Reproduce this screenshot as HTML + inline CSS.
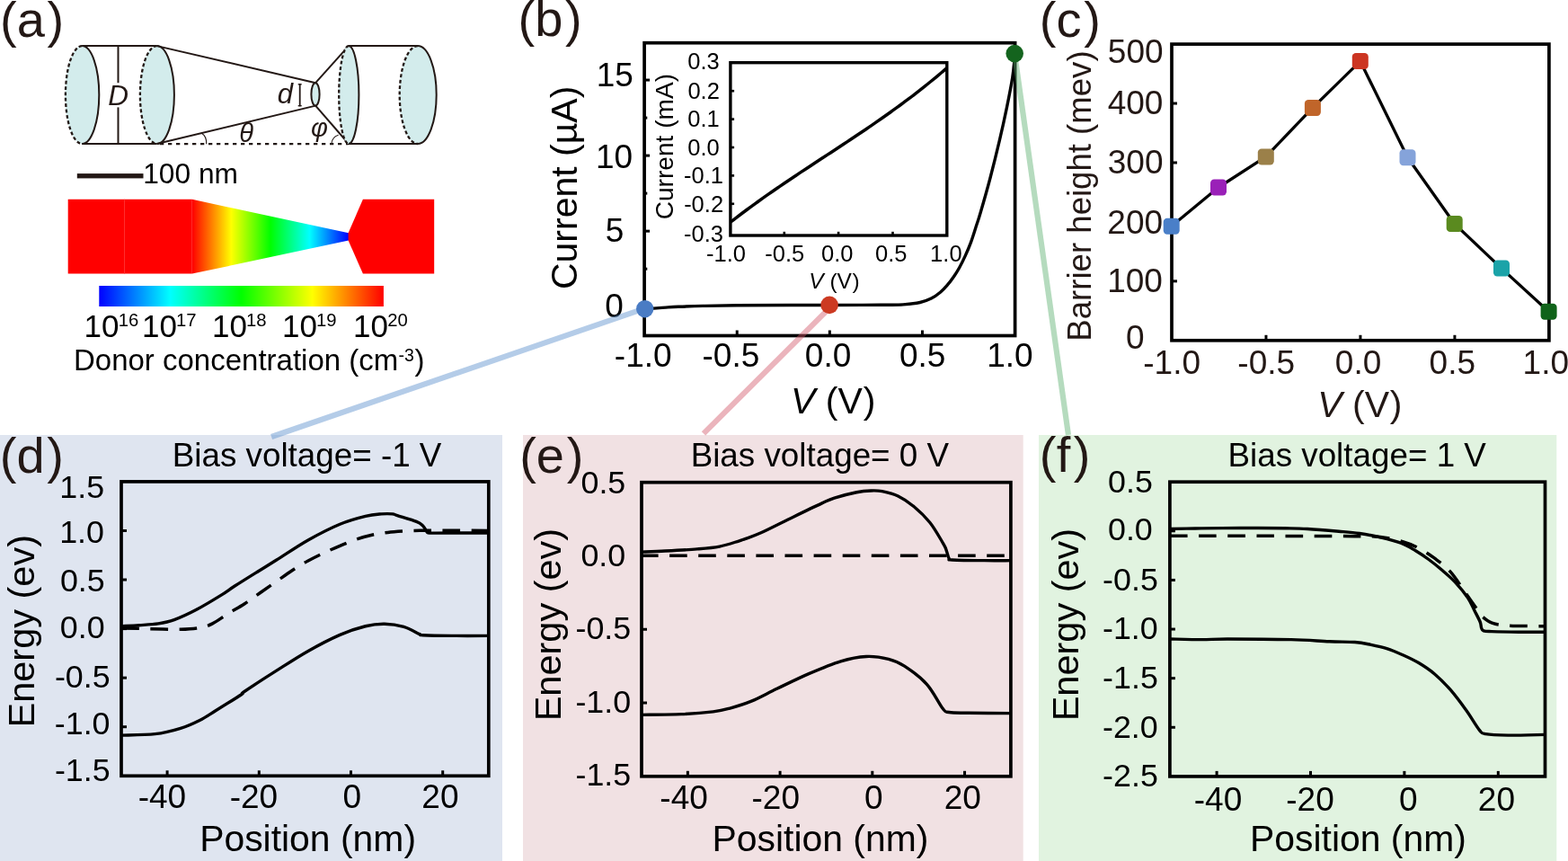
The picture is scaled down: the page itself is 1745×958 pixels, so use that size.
<!DOCTYPE html><html><head><meta charset="utf-8"><title>Figure</title><style>html,body{margin:0;padding:0;background:#fff;overflow:hidden}svg{display:block}</style></head><body><svg width="1745" height="958" viewBox="0 0 1745 958" font-family="'Liberation Sans', Arial, Helvetica, sans-serif">
<defs><linearGradient id="cone" gradientUnits="userSpaceOnUse" x1="213.8" y1="0" x2="388" y2="0"><stop offset="0" stop-color="#ff0000"/><stop offset="0.25" stop-color="#ffff00"/><stop offset="0.5" stop-color="#00ff00"/><stop offset="0.75" stop-color="#00ffff"/><stop offset="1" stop-color="#0000ff"/></linearGradient><linearGradient id="cbar" gradientUnits="userSpaceOnUse" x1="110.3" y1="0" x2="426.9" y2="0"><stop offset="0" stop-color="#0000ff"/><stop offset="0.25" stop-color="#00ffff"/><stop offset="0.5" stop-color="#00ff00"/><stop offset="0.75" stop-color="#ffff00"/><stop offset="1" stop-color="#ff0000"/></linearGradient></defs>
<rect width="1745" height="958" fill="#fff"/>
<rect x="0" y="484" width="559" height="474" fill="#dfe5f0"/>
<rect x="582" y="484" width="556.7" height="474" fill="#f1e1e3"/>
<rect x="1156" y="484" width="576.3" height="474" fill="#e1f3e0"/>
<text x="0.04" y="40.5" font-size="56" fill="#231815">(<tspan dx="0">a</tspan><tspan dx="2.7">)</tspan></text>
<text x="576.54" y="40" font-size="56" fill="#231815">(<tspan dx="0">b</tspan><tspan dx="2.7">)</tspan></text>
<text x="1156.84" y="40.5" font-size="56" fill="#231815">(<tspan dx="0">c</tspan><tspan dx="2.7">)</tspan></text>
<text x="-0.16" y="525.5" font-size="56" fill="#231815">(<tspan dx="0">d</tspan><tspan dx="2.7">)</tspan></text>
<text x="578.14" y="526" font-size="56" fill="#231815">(<tspan dx="0">e</tspan><tspan dx="2.7">)</tspan></text>
<text x="1156.84" y="524.9" font-size="56" fill="#231815">(<tspan dx="0.3">f</tspan><tspan dx="3.5">)</tspan></text>
<ellipse cx="91.3" cy="105.55" rx="19" ry="54.45" fill="#d3ecec"/>
<path d="M91.3 51.1 A19 54.45 0 0 1 91.3 160" fill="none" stroke="#231815" stroke-width="2.0"/>
<path d="M91.3 51.1 A18.4 54.45 0 0 0 91.3 160" fill="none" stroke="#231815" stroke-width="2.3" stroke-dasharray="3.8 2.6"/>
<ellipse cx="174.6" cy="105.55" rx="19.3" ry="54.45" fill="#d3ecec"/>
<path d="M174.6 51.1 A19.3 54.45 0 0 1 174.6 160" fill="none" stroke="#231815" stroke-width="2.0"/>
<path d="M174.6 51.1 A18.7 54.45 0 0 0 174.6 160" fill="none" stroke="#231815" stroke-width="2.3" stroke-dasharray="3.8 2.6"/>
<line x1="91.3" y1="51.1" x2="174.6" y2="51.1" stroke="#231815" stroke-width="2.0"/>
<line x1="91.3" y1="160" x2="174.6" y2="160" stroke="#231815" stroke-width="2.0"/>
<line x1="131.5" y1="51.1" x2="131.5" y2="92.2" stroke="#231815" stroke-width="2.0"/>
<line x1="131.5" y1="119.4" x2="131.5" y2="160" stroke="#231815" stroke-width="2.0"/>
<text x="120.36" y="117" font-size="31.5" font-style="italic" fill="#231815">D</text>
<line x1="174.6" y1="51.1" x2="351.2" y2="92.2" stroke="#231815" stroke-width="2.0"/>
<line x1="174.6" y1="160" x2="351.2" y2="117.6" stroke="#231815" stroke-width="2.0"/>
<line x1="178" y1="160.1" x2="388" y2="160.1" stroke="#231815" stroke-width="2.2" stroke-dasharray="4.3 4.7"/>
<ellipse cx="351" cy="104.9" rx="4.6" ry="12.7" fill="#d3ecec" stroke="#231815" stroke-width="2.0"/>
<line x1="351.2" y1="92.2" x2="388" y2="51.1" stroke="#231815" stroke-width="2.0"/>
<line x1="351.2" y1="117.6" x2="388" y2="160" stroke="#231815" stroke-width="2.0"/>
<ellipse cx="388" cy="105.55" rx="11.4" ry="54.45" fill="#d3ecec"/>
<path d="M388 51.1 A11.4 54.45 0 0 1 388 160" fill="none" stroke="#231815" stroke-width="2.0"/>
<path d="M388 51.1 A10.8 54.45 0 0 0 388 160" fill="none" stroke="#231815" stroke-width="2.3" stroke-dasharray="3.8 2.6"/>
<ellipse cx="464.9" cy="105.55" rx="20.8" ry="54.45" fill="#d3ecec"/>
<path d="M464.9 51.1 A20.8 54.45 0 0 1 464.9 160" fill="none" stroke="#231815" stroke-width="2.0"/>
<path d="M464.9 51.1 A20.2 54.45 0 0 0 464.9 160" fill="none" stroke="#231815" stroke-width="2.3" stroke-dasharray="3.8 2.6"/>
<line x1="388" y1="51.1" x2="464.9" y2="51.1" stroke="#231815" stroke-width="2.0"/>
<line x1="388" y1="160" x2="464.9" y2="160" stroke="#231815" stroke-width="2.0"/>
<line x1="333.7" y1="93.2" x2="333.7" y2="118.3" stroke="#231815" stroke-width="1.8"/>
<line x1="331.7" y1="93.8" x2="335.7" y2="93.8" stroke="#231815" stroke-width="1.4"/>
<line x1="331.7" y1="117.7" x2="335.7" y2="117.7" stroke="#231815" stroke-width="1.4"/>
<text x="308.72" y="115.4" font-size="31" font-style="italic" fill="#231815">d</text>
<path d="M224.3 148.3 Q229.9 151.5 229.8 160.2" fill="none" stroke="#231815" stroke-width="1.1"/>
<path d="M368.8 160.2 Q369.6 152.4 376.6 150.3" fill="none" stroke="#231815" stroke-width="1.1"/>
<text x="266.25" y="157.6" font-size="29" font-style="italic" fill="#231815">θ</text>
<text x="345.99" y="152.26" font-size="29" font-style="italic" fill="#231815">φ</text>
<rect x="85.8" y="193.1" width="73.7" height="5.3" fill="#231815"/>
<text x="159.24" y="204.3" font-size="31.7" font-style="normal" fill="#000">100 nm</text>
<polygon points="75.7,221.8 213.8,221.8 213.8,304.6 75.7,304.6" fill="#ff0000"/>
<line x1="138.5" y1="221.8" x2="138.5" y2="304.6" stroke="#ff3a3a" stroke-width="0.8"/>
<polygon points="213.8,221.8 388,259.3 388,267.6 213.8,304.6" fill="url(#cone)"/>
<polygon points="387.6,259.3 403.9,221.8 483.2,221.8 483.2,304.6 403.9,304.6 387.6,267.6" fill="#ff0000"/>
<rect x="110.3" y="318" width="316.6" height="23" fill="url(#cbar)"/>
<text x="93.62" y="374.6" font-size="35" font-style="normal" fill="#000">10</text>
<text x="131.68" y="362.9" font-size="20.3" font-style="normal" fill="#000">16</text>
<text x="157.93" y="374.6" font-size="35" font-style="normal" fill="#000">10</text>
<text x="196.08" y="362.9" font-size="20.3" font-style="normal" fill="#000">17</text>
<text x="235.93" y="374.6" font-size="35" font-style="normal" fill="#000">10</text>
<text x="273.98" y="362.9" font-size="20.3" font-style="normal" fill="#000">18</text>
<text x="313.93" y="374.6" font-size="35" font-style="normal" fill="#000">10</text>
<text x="352.03" y="362.9" font-size="20.3" font-style="normal" fill="#000">19</text>
<text x="392.93" y="374.6" font-size="35" font-style="normal" fill="#000">10</text>
<text x="431.18" y="362.9" font-size="20.3" font-style="normal" fill="#000">20</text>
<text x="81.96" y="412" font-size="33" font-style="normal" fill="#000">Donor concentration (cm</text>
<text x="443.59" y="401.5" font-size="19.5" fill="#000">-3</text>
<text x="461.43" y="412" font-size="33" fill="#000">)</text>
<rect x="717.1" y="47.7" width="412.5" height="325.8" fill="none" stroke="#000" stroke-width="3.7"/>
<line x1="717.1" y1="257.15" x2="723.1" y2="257.15" stroke="#000" stroke-width="3.0"/>
<line x1="717.1" y1="173.1" x2="723.1" y2="173.1" stroke="#000" stroke-width="3.0"/>
<line x1="717.1" y1="89.05" x2="723.1" y2="89.05" stroke="#000" stroke-width="3.0"/>
<line x1="717.1" y1="299.18" x2="720.3" y2="299.18" stroke="#000" stroke-width="3.0"/>
<line x1="717.1" y1="215.12" x2="720.3" y2="215.12" stroke="#000" stroke-width="3.0"/>
<line x1="717.1" y1="131.08" x2="720.3" y2="131.08" stroke="#000" stroke-width="3.0"/>
<line x1="820.23" y1="373.5" x2="820.23" y2="367.5" stroke="#000" stroke-width="3.0"/>
<line x1="923.35" y1="373.5" x2="923.35" y2="367.5" stroke="#000" stroke-width="3.0"/>
<line x1="1026.47" y1="373.5" x2="1026.47" y2="367.5" stroke="#000" stroke-width="3.0"/>
<text x="663.72" y="96.43" font-size="37" font-style="normal" fill="#000">15</text>
<text x="663.02" y="187.1" font-size="37" font-style="normal" fill="#000">10</text>
<text x="673.73" y="269.13" font-size="37" font-style="normal" fill="#000">5</text>
<text x="673.34" y="352.9" font-size="37" font-style="normal" fill="#000">0</text>
<text x="683.84" y="408.3" font-size="37" font-style="normal" fill="#000">-1.0</text>
<text x="781.54" y="408.3" font-size="37" font-style="normal" fill="#000">-0.5</text>
<text x="895.82" y="408.3" font-size="37" font-style="normal" fill="#000">0.0</text>
<text x="1000.92" y="408.3" font-size="37" font-style="normal" fill="#000">0.5</text>
<text x="1098.27" y="408.3" font-size="37" font-style="normal" fill="#000">1.0</text>
<text transform="translate(641.62 322.05) rotate(-90)" font-size="41" fill="#000">Current (µA)</text>
<text x="880.12" y="460.4" font-size="41" fill="#000"><tspan font-style="italic">V</tspan> (V<tspan dx="0.74">)</tspan></text>
<rect x="812.9" y="69.7" width="240.9" height="192.3" fill="none" stroke="#000" stroke-width="3.4"/>
<line x1="812.9" y1="101.2" x2="817.1" y2="101.2" stroke="#000" stroke-width="2.6"/>
<line x1="812.9" y1="132.6" x2="817.1" y2="132.6" stroke="#000" stroke-width="2.6"/>
<line x1="812.9" y1="164" x2="817.1" y2="164" stroke="#000" stroke-width="2.6"/>
<line x1="812.9" y1="195.4" x2="817.1" y2="195.4" stroke="#000" stroke-width="2.6"/>
<line x1="812.9" y1="226.8" x2="817.1" y2="226.8" stroke="#000" stroke-width="2.6"/>
<line x1="872.8" y1="262" x2="872.8" y2="257.8" stroke="#000" stroke-width="2.6"/>
<line x1="933.1" y1="262" x2="933.1" y2="257.8" stroke="#000" stroke-width="2.6"/>
<line x1="993.5" y1="262" x2="993.5" y2="257.8" stroke="#000" stroke-width="2.6"/>
<text x="765.28" y="77.4" font-size="25.5" font-style="normal" fill="#000">0.3</text>
<text x="765.4" y="110" font-size="25.5" font-style="normal" fill="#000">0.2</text>
<text x="765.34" y="141.4" font-size="25.5" font-style="normal" fill="#000">0.1</text>
<text x="765.21" y="172.8" font-size="25.5" font-style="normal" fill="#000">0.0</text>
<text x="761.07" y="204.2" font-size="25.5" font-style="normal" fill="#000">-0.1</text>
<text x="761.13" y="235.6" font-size="25.5" font-style="normal" fill="#000">-0.2</text>
<text x="761.01" y="268.6" font-size="25.5" font-style="normal" fill="#000">-0.3</text>
<text x="786.05" y="291.1" font-size="25.5" font-style="normal" fill="#000">-1.0</text>
<text x="851.35" y="291.1" font-size="25.5" font-style="normal" fill="#000">-0.5</text>
<text x="913.98" y="291.1" font-size="25.5" font-style="normal" fill="#000">0.0</text>
<text x="974.08" y="291.1" font-size="25.5" font-style="normal" fill="#000">0.5</text>
<text x="1035.12" y="291.1" font-size="25.5" font-style="normal" fill="#000">1.0</text>
<text transform="translate(749.17 244.31) rotate(-90)" font-size="28.1" fill="#000">Current (mA)</text>
<text x="900.32" y="320.7" font-size="24.5" fill="#000"><tspan font-style="italic">V</tspan> (V<tspan dx="0.44">)</tspan></text>
<path d="M812.9 247.24 C813.9 246.47 816.91 244.12 818.92 242.58 C820.93 241.05 822.94 239.52 824.94 238.01 C826.95 236.5 828.96 235 830.97 233.51 C832.98 232.02 834.98 230.55 836.99 229.08 C839 227.62 841 226.17 843.01 224.72 C845.02 223.28 847.03 221.85 849.03 220.43 C851.04 219 853.05 217.59 855.06 216.19 C857.07 214.78 859.07 213.39 861.08 212 C863.09 210.61 865.09 209.23 867.1 207.86 C869.11 206.48 871.12 205.12 873.12 203.76 C875.13 202.4 877.14 201.04 879.15 199.7 C881.15 198.35 883.16 197.01 885.17 195.67 C887.18 194.33 889.18 192.99 891.19 191.66 C893.2 190.33 895.21 189.01 897.21 187.68 C899.22 186.36 901.23 185.04 903.24 183.72 C905.25 182.4 907.25 181.08 909.26 179.77 C911.27 178.45 913.27 177.14 915.28 175.82 C917.29 174.51 919.3 173.2 921.3 171.88 C923.31 170.57 925.32 169.25 927.33 167.94 C929.34 166.62 931.34 165.3 933.35 163.98 C935.36 162.66 937.36 161.34 939.37 160.02 C941.38 158.69 943.39 157.37 945.39 156.03 C947.4 154.7 949.41 153.37 951.42 152.03 C953.42 150.69 955.43 149.34 957.44 147.99 C959.45 146.64 961.45 145.29 963.46 143.93 C965.47 142.57 967.48 141.2 969.48 139.82 C971.49 138.45 973.5 137.07 975.51 135.67 C977.51 134.28 979.52 132.89 981.53 131.48 C983.54 130.07 985.55 128.66 987.55 127.23 C989.56 125.81 991.57 124.37 993.57 122.93 C995.58 121.48 997.59 120.02 999.6 118.56 C1001.61 117.09 1003.61 115.61 1005.62 114.12 C1007.63 112.63 1009.63 111.13 1011.64 109.61 C1013.65 108.09 1015.66 106.57 1017.66 105.02 C1019.67 103.48 1021.68 101.92 1023.69 100.35 C1025.69 98.78 1027.7 97.2 1029.71 95.6 C1031.72 93.99 1033.72 92.38 1035.73 90.74 C1037.74 89.11 1039.75 87.46 1041.75 85.8 C1043.76 84.13 1045.77 82.45 1047.78 80.75 C1049.78 79.04 1052.8 76.45 1053.8 75.59" fill="none" stroke="#000" stroke-width="3.5" stroke-linejoin="round"/>
<path d="M717.7 343.9 C719.33 343.77 723.62 343.4 727.5 343.1 C731.38 342.8 736.42 342.4 741 342.1 C745.58 341.8 748.08 341.58 755 341.3 C761.92 341.02 771.67 340.65 782.5 340.4 C793.33 340.15 803.75 339.95 820 339.8 C836.25 339.65 856.67 339.57 880 339.5 C903.33 339.43 942.5 339.45 960 339.4 C977.5 339.35 977.48 339.28 985 339.2 C992.52 339.12 998.62 339.35 1005.1 338.9 C1011.58 338.45 1018.68 337.63 1023.9 336.5 C1029.12 335.37 1032.65 333.98 1036.4 332.1 C1040.15 330.22 1043.48 327.6 1046.4 325.2 C1049.32 322.8 1051.38 320.62 1053.9 317.7 C1056.42 314.78 1059.2 311.03 1061.5 307.7 C1063.8 304.37 1065.62 301.47 1067.7 297.7 C1069.78 293.93 1071.9 289.7 1074 285.1 C1076.1 280.5 1078.22 275.73 1080.3 270.1 C1082.38 264.47 1084.68 256.9 1086.5 251.3 C1088.32 245.7 1088.65 245.27 1091.2 236.5 C1093.75 227.73 1098.3 211.97 1101.8 198.7 C1105.3 185.43 1109.08 170.13 1112.2 156.9 C1115.32 143.67 1118.07 131.13 1120.5 119.3 C1122.93 107.47 1125.4 94.6 1126.8 85.9 C1128.2 77.2 1128.47 71.42 1128.9 67.1 C1129.33 62.78 1129.32 61.18 1129.4 60" fill="none" stroke="#000" stroke-width="3.4" stroke-linejoin="round"/>
<line x1="713.3" y1="344.6" x2="302.1" y2="486.0" stroke="rgb(88,142,204)" stroke-opacity="0.45" stroke-width="6.2"/>
<line x1="924.5" y1="341.4" x2="783.0" y2="482.4" stroke="rgb(210,88,106)" stroke-opacity="0.45" stroke-width="6.2"/>
<line x1="1130.0" y1="66.0" x2="1189.0" y2="484.0" stroke="rgb(90,176,110)" stroke-opacity="0.45" stroke-width="6.2"/>
<circle cx="717.7" cy="343.7" r="9.7" fill="#4a7cc4"/>
<circle cx="923.1" cy="339.4" r="9.8" fill="#cc3a22"/>
<circle cx="1129.2" cy="59.6" r="9.8" fill="#14641e"/>
<rect x="1304" y="49.1" width="419.9" height="329.7" fill="none" stroke="#000" stroke-width="3.7"/>
<line x1="1304" y1="312.86" x2="1310" y2="312.86" stroke="#000" stroke-width="3.0"/>
<line x1="1304" y1="246.92" x2="1310" y2="246.92" stroke="#000" stroke-width="3.0"/>
<line x1="1304" y1="180.98" x2="1310" y2="180.98" stroke="#000" stroke-width="3.0"/>
<line x1="1304" y1="115.04" x2="1310" y2="115.04" stroke="#000" stroke-width="3.0"/>
<line x1="1408.97" y1="378.8" x2="1408.97" y2="372.8" stroke="#000" stroke-width="3.0"/>
<line x1="1513.95" y1="378.8" x2="1513.95" y2="372.8" stroke="#000" stroke-width="3.0"/>
<line x1="1618.93" y1="378.8" x2="1618.93" y2="372.8" stroke="#000" stroke-width="3.0"/>
<text x="1232.86" y="69.6" font-size="37" font-style="normal" fill="#231815">500</text>
<text x="1232.72" y="126.6" font-size="37" font-style="normal" fill="#231815">400</text>
<text x="1232.8" y="192.5" font-size="37" font-style="normal" fill="#231815">300</text>
<text x="1232.37" y="259.7" font-size="37" font-style="normal" fill="#231815">200</text>
<text x="1232.16" y="324.5" font-size="37" font-style="normal" fill="#231815">100</text>
<text x="1252.94" y="388.1" font-size="37" font-style="normal" fill="#231815">0</text>
<text x="1272.24" y="415.6" font-size="37" font-style="normal" fill="#231815">-1.0</text>
<text x="1377.34" y="415.6" font-size="37" font-style="normal" fill="#231815">-0.5</text>
<text x="1485.82" y="415.6" font-size="37" font-style="normal" fill="#231815">0.0</text>
<text x="1590.62" y="415.6" font-size="37" font-style="normal" fill="#231815">0.5</text>
<text x="1694.57" y="415.6" font-size="37" font-style="normal" fill="#231815">1.0</text>
<text transform="translate(1214.13 379.63) rotate(-90)" font-size="36.6" fill="#231815">Barrier height (mev)</text>
<text x="1466.32" y="463.9" font-size="41" fill="#231815"><tspan font-style="italic">V</tspan> (V<tspan dx="0.74">)</tspan></text>
<polyline points="1303.7,251.7 1356,208.5 1408.8,174.4 1460.9,119.9 1513.8,68.1 1566.5,175.2 1618.7,249 1671,298.6 1723.6,346.8" fill="none" stroke="#000" stroke-width="3.3" stroke-linejoin="round"/>
<rect x="1294.7" y="242.7" width="18" height="18" rx="4.2" fill="#4a7fc8"/>
<rect x="1347" y="199.5" width="18" height="18" rx="4.2" fill="#9a20b8"/>
<rect x="1399.8" y="165.4" width="18" height="18" rx="4.2" fill="#9b8049"/>
<rect x="1451.9" y="110.9" width="18" height="18" rx="4.2" fill="#c0652a"/>
<rect x="1504.8" y="59.1" width="18" height="18" rx="4.2" fill="#cc3522"/>
<rect x="1557.5" y="166.2" width="18" height="18" rx="4.2" fill="#85a3da"/>
<rect x="1609.7" y="240" width="18" height="18" rx="4.2" fill="#5a8a1f"/>
<rect x="1662" y="289.6" width="18" height="18" rx="4.2" fill="#1ba3a8"/>
<rect x="1714.6" y="337.8" width="18" height="18" rx="4.2" fill="#10631a"/>
<rect x="135" y="535.9" width="408.8" height="327.4" fill="none" stroke="#000" stroke-width="3.7"/>
<line x1="135" y1="590.47" x2="141" y2="590.47" stroke="#000" stroke-width="3.0"/>
<line x1="135" y1="645.03" x2="141" y2="645.03" stroke="#000" stroke-width="3.0"/>
<line x1="135" y1="699.6" x2="141" y2="699.6" stroke="#000" stroke-width="3.0"/>
<line x1="135" y1="754.17" x2="141" y2="754.17" stroke="#000" stroke-width="3.0"/>
<line x1="135" y1="808.73" x2="141" y2="808.73" stroke="#000" stroke-width="3.0"/>
<line x1="186.1" y1="863.3" x2="186.1" y2="857.3" stroke="#000" stroke-width="3.0"/>
<line x1="288.3" y1="863.3" x2="288.3" y2="857.3" stroke="#000" stroke-width="3.0"/>
<line x1="390.5" y1="863.3" x2="390.5" y2="857.3" stroke="#000" stroke-width="3.0"/>
<line x1="492.7" y1="863.3" x2="492.7" y2="857.3" stroke="#000" stroke-width="3.0"/>
<text x="66.29" y="554.17" font-size="35.8" font-style="normal" fill="#000">1.5</text>
<text x="66.2" y="604.35" font-size="35.8" font-style="normal" fill="#000">1.0</text>
<text x="66.92" y="657.75" font-size="35.8" font-style="normal" fill="#000">0.5</text>
<text x="66.83" y="709.85" font-size="35.8" font-style="normal" fill="#000">0.0</text>
<text x="60.92" y="764.95" font-size="35.8" font-style="normal" fill="#000">-0.5</text>
<text x="60.83" y="817.05" font-size="35.8" font-style="normal" fill="#000">-1.0</text>
<text x="60.92" y="869.17" font-size="35.8" font-style="normal" fill="#000">-1.5</text>
<text x="153.64" y="899.1" font-size="37" font-style="normal" fill="#000">-40</text>
<text x="255.73" y="899.1" font-size="37" font-style="normal" fill="#000">-20</text>
<text x="381.52" y="899.1" font-size="37" font-style="normal" fill="#000">0</text>
<text x="469.35" y="899.1" font-size="37" font-style="normal" fill="#000">20</text>
<text x="191.76" y="518.8" font-size="36.8" font-style="normal" fill="#000">Bias voltage= -1 V</text>
<text x="222.13" y="947" font-size="40.9" font-style="normal" fill="#000">Position (nm)</text>
<text transform="translate(38.49 809.52) rotate(-90)" font-size="41.5" fill="#000">Energy (ev)</text>
<path d="M135.32 696.75 C138.57 696.57 148.03 696.16 154.84 695.69 C161.64 695.21 169.62 694.92 176.12 693.91 C182.63 692.91 186.77 692.26 193.86 689.65 C200.96 687.05 209.83 682.97 218.7 678.3 C227.57 673.63 239.98 666 247.08 661.63 C254.18 657.25 254.77 656.24 261.27 652.05 C267.78 647.85 278.42 641.23 286.11 636.44 C293.79 631.65 297.93 629.22 307.39 623.31 C316.85 617.4 331.05 607.64 342.87 600.96 C354.7 594.28 367.71 587.65 378.35 583.22 C388.99 578.78 399.05 576.24 406.73 574.35 C414.42 572.46 419.45 572.28 424.47 571.86 C429.5 571.45 433.93 571.57 436.89 571.86 C439.85 572.16 437.78 572.22 442.21 573.64 C446.65 575.06 458.77 578.49 463.5 580.38 C468.23 582.27 468.82 583.34 470.59 584.99 C472.37 586.65 473.2 589.01 474.14 590.31 C475.09 591.61 474.5 592.32 476.27 592.8 C478.05 593.27 477.45 593.12 484.79 593.15 C492.12 593.18 510.39 593 520.26 592.97 C530.14 592.94 540.07 592.97 544.04 592.97" fill="none" stroke="#000" stroke-width="3.4" stroke-linejoin="round"/>
<path d="M135.32 698.88 C140.35 699 154.54 699.35 165.48 699.59 C176.42 699.82 191.5 700.47 200.96 700.3 C210.42 700.12 216.33 699.59 222.24 698.52 C228.16 697.46 231.11 696.57 236.44 693.91 C241.76 691.25 248.26 686.22 254.18 682.56 C260.09 678.89 266 675.76 271.91 671.91 C277.83 668.07 283.74 663.64 289.65 659.5 C295.57 655.36 301.48 651.22 307.39 647.08 C313.31 642.94 319.22 638.51 325.13 634.66 C331.05 630.82 336.96 627.27 342.87 624.02 C348.78 620.77 354.7 617.93 360.61 615.15 C366.52 612.37 372.44 609.83 378.35 607.34 C384.26 604.86 390.18 602.26 396.09 600.25 C402 598.24 407.92 596.58 413.83 595.28 C419.74 593.98 425.66 593.15 431.57 592.44 C437.48 591.73 443.39 591.38 449.31 591.02 C455.22 590.67 461.13 590.46 467.05 590.31 C472.96 590.17 471.95 590.11 484.79 590.14 C497.62 590.17 534.16 590.43 544.04 590.49" fill="none" stroke="#000" stroke-width="3.5" stroke-linejoin="round" stroke-dasharray="19.6 12.5"/>
<path d="M135.32 818.09 C141.53 817.85 161.64 817.97 172.57 816.67 C183.51 815.37 192.68 812.82 200.96 810.28 C209.24 807.74 215.74 804.66 222.24 801.41 C228.75 798.16 232.3 795.5 239.98 790.77 C247.67 786.04 263.04 776.58 268.37 773.03 C273.69 769.48 265.41 773.92 271.91 769.48 C278.42 765.05 295.57 753.93 307.39 746.42 C319.22 738.91 331.05 731.1 342.87 724.42 C354.7 717.74 367.71 710.94 378.35 706.33 C388.99 701.72 398.45 698.76 406.73 696.75 C415.01 694.74 420.92 694.15 428.02 694.27 C435.12 694.38 442.8 695.57 449.31 697.46 C455.81 699.35 463.5 704.08 467.05 705.62 C470.59 707.16 464.68 706.39 470.59 706.68 C476.51 706.98 490.29 707.27 502.53 707.39 C514.77 707.51 537.12 707.39 544.04 707.39" fill="none" stroke="#000" stroke-width="3.4" stroke-linejoin="round"/>
<rect x="714" y="536.7" width="410.9" height="327.1" fill="none" stroke="#000" stroke-width="3.7"/>
<line x1="714" y1="618.48" x2="720" y2="618.48" stroke="#000" stroke-width="3.0"/>
<line x1="714" y1="700.25" x2="720" y2="700.25" stroke="#000" stroke-width="3.0"/>
<line x1="714" y1="782.02" x2="720" y2="782.02" stroke="#000" stroke-width="3.0"/>
<line x1="765.36" y1="863.8" x2="765.36" y2="857.8" stroke="#000" stroke-width="3.0"/>
<line x1="868.09" y1="863.8" x2="868.09" y2="857.8" stroke="#000" stroke-width="3.0"/>
<line x1="970.81" y1="863.8" x2="970.81" y2="857.8" stroke="#000" stroke-width="3.0"/>
<line x1="1073.54" y1="863.8" x2="1073.54" y2="857.8" stroke="#000" stroke-width="3.0"/>
<text x="646.52" y="549.05" font-size="35.8" font-style="normal" fill="#000">0.5</text>
<text x="646.43" y="629.55" font-size="35.8" font-style="normal" fill="#000">0.0</text>
<text x="640.52" y="710.85" font-size="35.8" font-style="normal" fill="#000">-0.5</text>
<text x="640.43" y="792.85" font-size="35.8" font-style="normal" fill="#000">-1.0</text>
<text x="640.52" y="873.77" font-size="35.8" font-style="normal" fill="#000">-1.5</text>
<text x="734.34" y="899.8" font-size="37" font-style="normal" fill="#000">-40</text>
<text x="836.54" y="899.8" font-size="37" font-style="normal" fill="#000">-20</text>
<text x="962.02" y="899.8" font-size="37" font-style="normal" fill="#000">0</text>
<text x="1050.65" y="899.8" font-size="37" font-style="normal" fill="#000">20</text>
<text x="768.66" y="518.6" font-size="36.8" font-style="normal" fill="#000">Bias voltage= 0 V</text>
<text x="792.53" y="947" font-size="40.9" font-style="normal" fill="#000">Position (nm)</text>
<text transform="translate(623.79 802.32) rotate(-90)" font-size="41.5" fill="#000">Energy (ev)</text>
<path d="M713.87 614.08 C718.3 613.91 730.13 613.55 740.48 613.02 C750.83 612.49 765.9 611.72 775.96 610.89 C786.01 610.06 793.11 609.53 800.79 608.05 C808.48 606.57 817.35 603.44 822.08 602.02 C826.81 600.6 825.04 601.08 829.18 599.54 C833.31 598 838.04 596.82 846.91 592.8 C855.78 588.78 871.16 580.85 882.39 575.41 C893.63 569.97 906.64 563.7 914.32 560.16 C922.01 556.61 922.01 556.2 928.52 554.13 C935.02 552.06 946.55 549.1 953.35 547.74 C960.15 546.38 964.59 546.14 969.32 545.97 C974.05 545.79 976.71 545.67 981.73 546.67 C986.76 547.68 993.56 549.16 999.47 552 C1005.39 554.84 1011.3 558.8 1017.21 563.7 C1023.12 568.61 1029.63 574.76 1034.95 581.44 C1040.27 588.13 1046.19 598.89 1049.14 603.8 C1052.1 608.7 1051.51 607.93 1052.69 610.89 C1053.87 613.85 1055.06 619.52 1056.24 621.53 C1057.42 623.55 1053.28 622.6 1059.79 622.95 C1066.29 623.31 1084.44 623.55 1095.26 623.66 C1106.09 623.78 1119.8 623.66 1124.71 623.66" fill="none" stroke="#000" stroke-width="3.4" stroke-linejoin="round"/>
<line x1="713" y1="618.3" x2="1124.7" y2="618.3" stroke="#000" stroke-width="3.5" stroke-dasharray="19.6 12.5"/>
<path d="M713.87 795.38 C721.26 795.26 744.91 795.26 758.22 794.67 C771.52 794.08 784.83 792.9 793.7 791.83 C802.57 790.77 804.34 790.24 811.44 788.28 C818.53 786.33 827.4 783.79 836.27 780.12 C845.14 776.46 854.01 771.37 864.65 766.29 C875.3 761.2 888.31 754.7 900.13 749.61 C911.96 744.53 924.97 738.97 935.61 735.78 C946.25 732.58 955.12 730.87 963.99 730.45 C972.86 730.04 981.73 731.52 988.83 733.29 C995.92 735.07 999.47 736.43 1006.57 741.1 C1013.66 745.77 1024.31 753.46 1031.4 761.32 C1038.5 769.18 1045 783.08 1049.14 788.28 C1053.28 793.49 1051.51 791.71 1056.24 792.54 C1060.97 793.37 1066.11 793.07 1077.53 793.25 C1088.94 793.43 1116.85 793.55 1124.71 793.61" fill="none" stroke="#000" stroke-width="3.4" stroke-linejoin="round"/>
<rect x="1301.9" y="536.2" width="417.6" height="327.7" fill="none" stroke="#000" stroke-width="3.7"/>
<line x1="1301.9" y1="590.82" x2="1307.9" y2="590.82" stroke="#000" stroke-width="3.0"/>
<line x1="1301.9" y1="645.43" x2="1307.9" y2="645.43" stroke="#000" stroke-width="3.0"/>
<line x1="1301.9" y1="700.05" x2="1307.9" y2="700.05" stroke="#000" stroke-width="3.0"/>
<line x1="1301.9" y1="754.67" x2="1307.9" y2="754.67" stroke="#000" stroke-width="3.0"/>
<line x1="1301.9" y1="809.28" x2="1307.9" y2="809.28" stroke="#000" stroke-width="3.0"/>
<line x1="1354.1" y1="863.9" x2="1354.1" y2="857.9" stroke="#000" stroke-width="3.0"/>
<line x1="1458.5" y1="863.9" x2="1458.5" y2="857.9" stroke="#000" stroke-width="3.0"/>
<line x1="1562.9" y1="863.9" x2="1562.9" y2="857.9" stroke="#000" stroke-width="3.0"/>
<line x1="1667.3" y1="863.9" x2="1667.3" y2="857.9" stroke="#000" stroke-width="3.0"/>
<text x="1233.12" y="548.05" font-size="35.8" font-style="normal" fill="#000">0.5</text>
<text x="1233.03" y="601.35" font-size="35.8" font-style="normal" fill="#000">0.0</text>
<text x="1227.12" y="656.55" font-size="35.8" font-style="normal" fill="#000">-0.5</text>
<text x="1227.03" y="710.85" font-size="35.8" font-style="normal" fill="#000">-1.0</text>
<text x="1227.12" y="765.57" font-size="35.8" font-style="normal" fill="#000">-1.5</text>
<text x="1227.03" y="820.85" font-size="35.8" font-style="normal" fill="#000">-2.0</text>
<text x="1227.12" y="875.15" font-size="35.8" font-style="normal" fill="#000">-2.5</text>
<text x="1328.74" y="901.7" font-size="37" font-style="normal" fill="#000">-40</text>
<text x="1431.24" y="901.7" font-size="37" font-style="normal" fill="#000">-20</text>
<text x="1557.12" y="901.7" font-size="37" font-style="normal" fill="#000">0</text>
<text x="1644.85" y="901.7" font-size="37" font-style="normal" fill="#000">20</text>
<text x="1366.46" y="519.2" font-size="36.8" font-style="normal" fill="#000">Bias voltage= 1 V</text>
<text x="1391.03" y="947.4" font-size="40.9" font-style="normal" fill="#000">Position (nm)</text>
<text transform="translate(1200.09 802.32) rotate(-90)" font-size="41.5" fill="#000">Energy (ev)</text>
<path d="M1302.1 588.5 C1306.75 588.42 1320.35 588.15 1330 588 C1339.65 587.85 1348.33 587.68 1360 587.6 C1371.67 587.52 1388.33 587.47 1400 587.5 C1411.67 587.53 1420.83 587.63 1430 587.8 C1439.17 587.97 1445 587.93 1455 588.5 C1465 589.07 1480.33 590.37 1490 591.2 C1499.67 592.03 1505.33 592.4 1513 593.5 C1520.67 594.6 1528.33 596.03 1536 597.8 C1543.67 599.57 1552.5 601.65 1559 604.1 C1565.5 606.55 1569.83 609.43 1575 612.5 C1580.17 615.57 1585 618.83 1590 622.5 C1595 626.17 1600.12 630.32 1605 634.5 C1609.88 638.68 1614.53 642.47 1619.3 647.6 C1624.07 652.73 1629.98 659.98 1633.6 665.3 C1637.22 670.62 1638.73 675.05 1641 679.5 C1643.27 683.95 1645.93 688.83 1647.2 692 C1648.47 695.17 1647.97 696.87 1648.6 698.5 C1649.23 700.13 1649.1 701.12 1651 701.8 C1652.9 702.48 1653.5 702.37 1660 702.6 C1666.5 702.83 1680.05 703.1 1690 703.2 C1699.95 703.3 1714.75 703.2 1719.7 703.2" fill="none" stroke="#000" stroke-width="3.4" stroke-linejoin="round"/>
<path d="M1302.1 596.34 C1318.65 596.34 1367.14 596.29 1401.44 596.34 C1435.73 596.4 1485.4 596.52 1507.87 596.7 C1530.34 596.88 1527.38 596.4 1536.25 597.41 C1545.12 598.41 1553.99 600.66 1561.09 602.73 C1568.19 604.8 1572.92 606.75 1578.83 609.83 C1584.74 612.9 1590.66 616.75 1596.57 621.18 C1602.48 625.61 1608.39 629.75 1614.31 636.44 C1620.22 643.12 1627.02 654.18 1632.05 661.27 C1637.07 668.37 1641.51 674.87 1644.46 679.01 C1647.42 683.15 1647.13 683.74 1649.79 686.11 C1652.45 688.47 1655.7 691.55 1660.43 693.2 C1665.16 694.86 1668.29 695.45 1678.17 696.04 C1688.04 696.63 1712.76 696.63 1719.68 696.75" fill="none" stroke="#000" stroke-width="3.5" stroke-linejoin="round" stroke-dasharray="19.6 12.5"/>
<path d="M1302.1 710.94 C1308.01 711.06 1326.93 711.65 1337.57 711.65 C1348.22 711.65 1349.4 710.94 1365.96 710.94 C1382.51 710.94 1417.99 711.18 1436.91 711.65 C1455.84 712.12 1467.66 713.31 1479.49 713.78 C1491.31 714.25 1500.18 713.9 1507.87 714.49 C1515.56 715.08 1519.7 716.14 1525.61 717.33 C1531.52 718.51 1537.44 719.69 1543.35 721.58 C1549.26 723.48 1555.18 726.02 1561.09 728.68 C1567 731.34 1572.92 734 1578.83 737.55 C1584.74 741.1 1590.66 744.94 1596.57 749.97 C1602.48 754.99 1608.39 760.91 1614.31 767.71 C1620.22 774.51 1626.72 783.38 1632.05 790.77 C1637.37 798.16 1642.69 807.74 1646.24 812.05 C1649.79 816.37 1648.01 815.66 1653.33 816.67 C1658.66 817.67 1667.11 817.97 1678.17 818.09 C1689.23 818.2 1712.76 817.49 1719.68 817.38" fill="none" stroke="#000" stroke-width="3.4" stroke-linejoin="round"/>
</svg></body></html>
